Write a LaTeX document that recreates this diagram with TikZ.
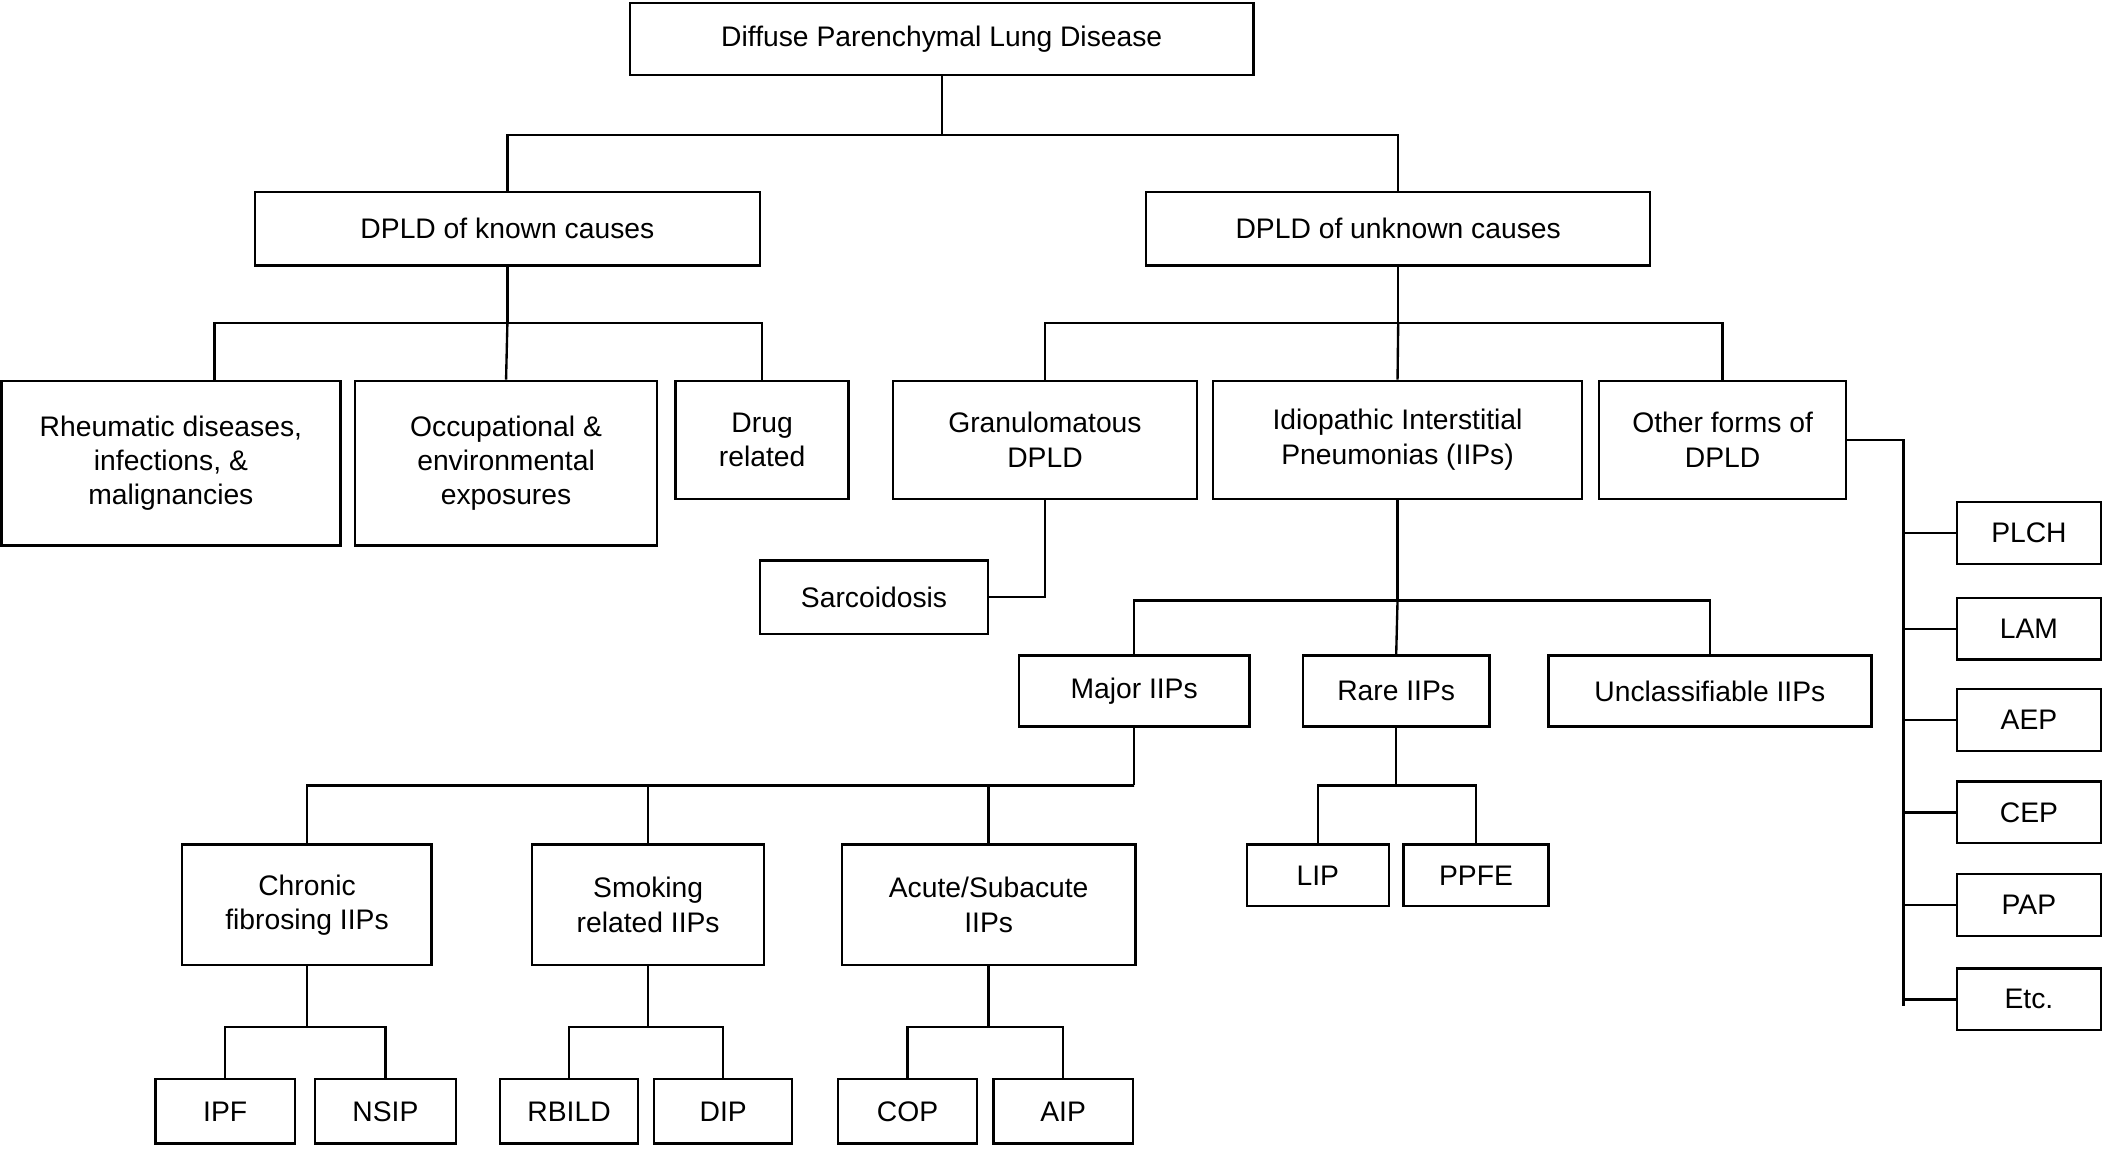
\documentclass[tikz,border=0pt]{standalone}
\usepackage{fontspec}
\setmainfont{Liberation Sans}
\usetikzlibrary{positioning}

\begin{document}
\begin{tikzpicture}[x=0.2mm, y=-0.2mm,
    box/.style={draw, line width=1pt, align=center, inner sep=0pt,
        font=\fontsize{12}{14.5}\selectfont},
    link/.style={line width=1pt}]
    \useasboundingbox (0,0) rectangle (1568,857);
    % Nodes
    \node[box, minimum width=93mm, minimum height=10.8mm] (dpld) at (702.5,29) {Diffuse Parenchymal Lung Disease};
    \node[box, minimum width=75.4mm, minimum height=11mm] (known) at (378.5,170.5) {DPLD of known causes};
    \node[box, minimum width=75.2mm, minimum height=11mm] (unknown) at (1043,170.5) {DPLD of unknown causes};

    \node[box, minimum width=50.6mm, minimum height=24.6mm] (rheum) at (127.5,345.5) {Rheumatic diseases,\\ infections, \&\\ malignancies};
    \node[box, minimum width=45mm, minimum height=24.6mm] (occup) at (377.5,345.5) {Occupational \&\\ environmental\\ exposures};
    \node[box, minimum width=25.8mm, minimum height=17.6mm] (drug) at (568.5,328) {Drug\\ related};
    \node[box, minimum width=45.4mm, minimum height=17.6mm] (granul) at (779.5,328) {Granulomatous\\ DPLD};
    \node[box, minimum width=55mm, minimum height=17.6mm] (iips) at (1042.5,328) {Idiopathic Interstitial\\ Pneumonias (IIPs)};
    \node[box, minimum width=36.8mm, minimum height=17.6mm] (other) at (1285,328) {Other forms of\\ DPLD};
    \node[box, minimum width=34mm, minimum height=11mm] (sarc) at (652,445.5) {Sarcoidosis};

    \node[box, minimum width=34.4mm, minimum height=10.6mm] (major) at (846,515.5) {Major IIPs};
    \node[box, minimum width=27.8mm, minimum height=10.6mm] (rare) at (1041.5,515.5) {Rare IIPs};
    \node[box, minimum width=48.2mm, minimum height=10.6mm] (unclass) at (1275.5,515.5) {Unclassifiable IIPs};

    \node[box, minimum width=37.2mm, minimum height=18mm] (chronic) at (229,675) {Chronic\\ fibrosing IIPs};
    \node[box, minimum width=34.6mm, minimum height=18mm] (smoking) at (483.5,675) {Smoking\\ related IIPs};
    \node[box, minimum width=43.8mm, minimum height=18mm] (acute) at (737.5,675) {Acute/Subacute\\ IIPs};
    \node[box, minimum width=21.2mm, minimum height=9.2mm] (lip) at (983,653) {LIP};
    \node[box, minimum width=21.6mm, minimum height=9.2mm] (ppfe) at (1101,653) {PPFE};

    \node[box, minimum width=20.8mm, minimum height=9.6mm] (ipf) at (168,829) {IPF};
    \node[box, minimum width=21mm, minimum height=9.6mm] (nsip) at (287.5,829) {NSIP};
    \node[box, minimum width=20.6mm, minimum height=9.6mm] (rbild) at (424.5,829) {RBILD};
    \node[box, minimum width=20.6mm, minimum height=9.6mm] (dip) at (539.5,829) {DIP};
    \node[box, minimum width=20.8mm, minimum height=9.6mm] (cop) at (677,829) {COP};
    \node[box, minimum width=20.8mm, minimum height=9.6mm] (aip) at (793,829) {AIP};

    \node[box, minimum width=21.4mm, minimum height=9.2mm] (plch) at (1513.5,397.5) {PLCH};
    \node[box, minimum width=21.4mm, minimum height=9.2mm] (lam) at (1513.5,469) {LAM};
    \node[box, minimum width=21.4mm, minimum height=9.2mm] (aep) at (1513.5,537) {AEP};
    \node[box, minimum width=21.4mm, minimum height=9.2mm] (cep) at (1513.5,606) {CEP};
    \node[box, minimum width=21.4mm, minimum height=9.2mm] (pap) at (1513.5,675) {PAP};
    \node[box, minimum width=21.4mm, minimum height=9.2mm] (etc) at (1513.5,745.5) {Etc.};

    % Connectors
    \draw[link] (dpld.south) -- ++(0,44) coordinate (t1);
    \draw[link] (known.north) |- (t1) -| (unknown.north);

    \draw[link] (known.south) -- ++(0,42) coordinate (k1);
    \draw[link] ([xshift=6.5mm]rheum.north) |- (k1) -| (drug.north);
    \draw[link] (k1) -- (occup.north);

    \draw[link] (unknown.south) -- ++(0,42) coordinate (u1);
    \draw[link] (granul.north) |- (u1) -| (other.north);
    \draw[link] (u1) -- (iips.north);
    \draw[link] (granul.south) |- (sarc.east);

    \draw[link] (iips.south) -- ++(0,75) coordinate (i1);
    \draw[link] (major.north) |- (i1) -| (unclass.north);
    \draw[link] (i1) -- (rare.north);

    \draw[link] (major.south) -- ++(0,43) coordinate (m1);
    \draw[link] (chronic.north) |- (m1) -| (acute.north);
    \draw[link] (smoking.north) -- (smoking.north |- m1);

    \draw[link] (rare.south) -- ++(0,43) coordinate (r1);
    \draw[link] (lip.north) |- (r1) -| (ppfe.north);

    \draw[link] (chronic.south) -- ++(0,45) coordinate (c1);
    \draw[link] (ipf.north) |- (c1) -| (nsip.north);
    \draw[link] (smoking.south) -- ++(0,45) coordinate (s1);
    \draw[link] (rbild.north) |- (s1) -| (dip.north);
    \draw[link] (acute.south) -- ++(0,45) coordinate (a1);
    \draw[link] (cop.north) |- (a1) -| (aip.north);

    \draw[link] (other.east) -- ++(42,0) coordinate (o1) -- ([yshift=-1mm]o1 |- etc);
    \foreach \n in {plch, lam, aep, cep, pap, etc}
        \draw[link] (o1 |- \n) -- (\n.west);
\end{tikzpicture}
\end{document}
